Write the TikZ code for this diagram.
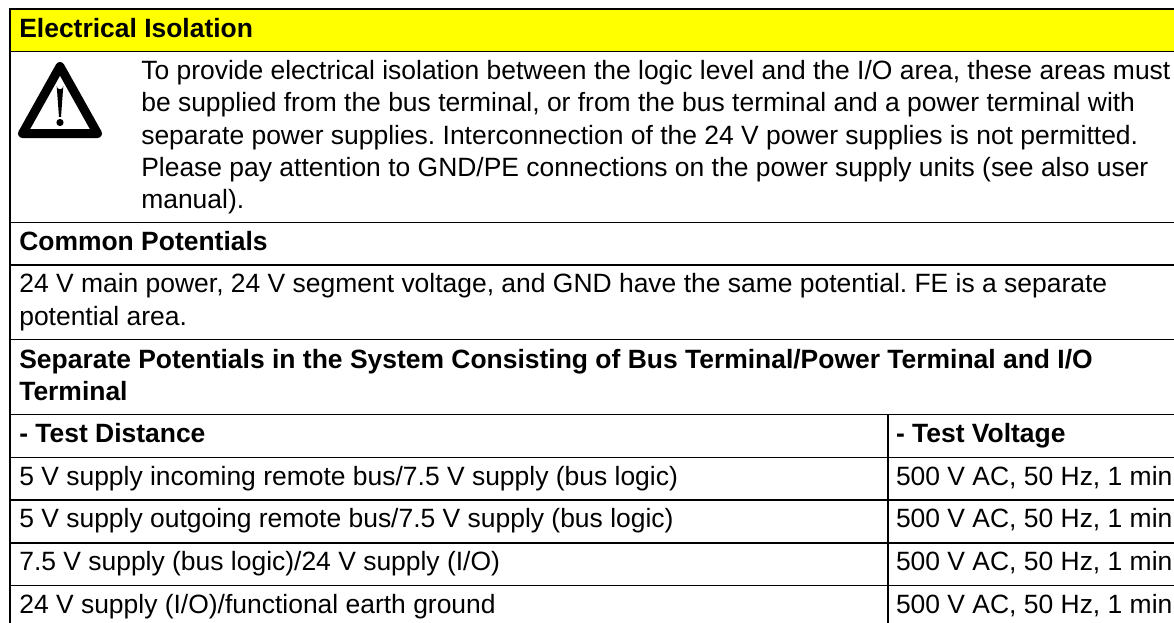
\documentclass[tikz,border=0pt]{standalone}
\usepackage{fontspec}
\setmainfont{Liberation Sans}
\usetikzlibrary{calc}
\frenchspacing
\definecolor{signal}{RGB}{255,255,0}
\tikzset{x=1pt,y=-1pt,
  rule/.style={line width=1.6pt,black},
  txt/.style={anchor=base west,inner sep=0pt,outer sep=0pt,font=\frenchspacing\fontsize{26.45}{30}\selectfont},
  btxt/.style={txt,font=\frenchspacing\fontsize{26.45}{30}\selectfont\bfseries}}
\begin{document}
\begin{tikzpicture}
\useasboundingbox (0,0) rectangle (1174,623);
\fill[white] (0,0) rectangle (1174,623);
\fill[signal] (10,9) rectangle (1174,51.7);
\draw[rule] (1174,9) -- (10,9) -- (10,623);
\foreach \yy in {51.7,222.3,264.7,339.5,414.3,457.3,500,542.7,585.3}
  \draw[rule] (10,\yy) -- (1174,\yy);
\draw[rule] (888,414.3) -- (888,623);
% warning sign
\draw[line width=9pt,line join=round,black] (60,66.5) -- (22.5,133.5) -- (97.5,133.5) -- cycle;
\fill[black] (56.7,86) arc[start angle=180,end angle=0,radius=3.3] -- (61,117) -- (59,117) -- cycle;
\fill[black] (60,122.5) circle (3.6);
\node[btxt] (t0) at (19.3,37.5) {Electrical Isolation};
\node[txt] (p1) at (141.3,80) {To provide electrical isolation between the logic level and the I/O area, these areas must};
\node[txt] (p2) at (141.3,112) {be supplied from the bus terminal, or from the bus terminal and a power terminal with};
\node[txt] (p3) at (141.3,144) {separate power supplies. Interconnection of the 24 V power supplies is not permitted.};
\node[txt] (p4) at (141.3,176) {Please pay attention to GND/PE connections on the power supply units (see also user};
\node[txt] (p5) at (141.3,208.5) {manual).};
\node[btxt] (t1) at (19.3,250) {Common Potentials};
\node[txt] (c1) at (19.3,292) {24 V main power, 24 V segment voltage, and GND have the same potential. FE is a separate};
\node[txt] (c2) at (19.3,325) {potential area.};
\node[btxt] (t2) at (19.3,368) {Separate Potentials in the System Consisting of Bus Terminal/Power Terminal and I/O};
\node[btxt] (t3) at (19.3,400.5) {Terminal};
\node[btxt] (h1) at (19.3,442.5) {- Test Distance};
\node[btxt] (h2) at (896,442.5) {- Test Voltage};
\node[txt] (r1) at (19.3,485) {5 V supply incoming remote bus/7.5 V supply (bus logic)};
\node[txt] (r2) at (19.3,527.7) {5 V supply outgoing remote bus/7.5 V supply (bus logic)};
\node[txt] (r3) at (19.3,570.5) {7.5 V supply (bus logic)/24 V supply (I/O)};
\node[txt] (r4) at (19.3,613) {24 V supply (I/O)/functional earth ground};
\foreach \yy/\nn in {485/v1,527.7/v2,570.5/v3,613/v4}
  \node[txt] (\nn) at (896,\yy) {500 V AC, 50 Hz, 1 min};
\end{tikzpicture}
\end{document}
